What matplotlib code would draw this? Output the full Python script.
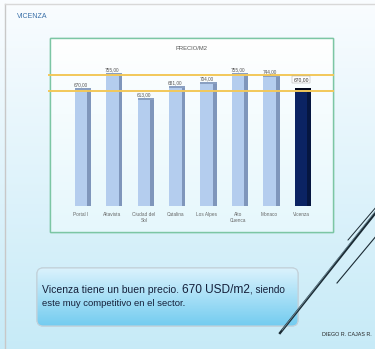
import numpy as np
import matplotlib
matplotlib.use("Agg")
import matplotlib.pyplot as plt
import matplotlib.transforms as mtrans
from matplotlib.patches import FancyBboxPatch, Rectangle

# Price per square metre of competing projects
categories = ["Portal I", "Altavista", "Ciudad del\nSol", "Catalina", "Los Alpes",
              "Alto\nCuenca", "Monaco", "Vicenza"]
prices = [670, 755, 613, 681, 704, 755, 744, 670]
value_labels = ["670,00", "755,00", "613,00", "681,00", "704,00", "755,00", "744,00", "670,00"]
reference_lines = [744, 653]

plt.rcParams["font.family"] = ["Liberation Sans", "DejaVu Sans"]

W, H = 375, 349
fig = plt.figure(figsize=(W / 100, H / 100), dpi=100)

# slide background in pixel coordinates
bg = fig.add_axes([0, 0, 1, 1])
bg.set_xlim(0, W)
bg.set_ylim(H, 0)
bg.axis("off")


def vgrad(c_top, c_bot, n=256):
    g = np.linspace(0, 1, n).reshape(-1, 1, 1)
    return np.array(c_top)[None, None, :] * (1 - g) + np.array(c_bot)[None, None, :] * g


bg.imshow(vgrad([0.98, 0.99, 1.0], [0.78, 0.92, 0.97]), extent=[0, W, H, 0],
          aspect="auto", zorder=0)
# slide frame lines
bg.plot([5, 5], [4, H], color="#c8c8c8", lw=1, zorder=1)
bg.plot([5, W], [4, 4], color="#d8d8d8", lw=1, zorder=1)

bg.text(17, 17, "VICENZA", fontsize=5, color="#3a6fa8", va="center", ha="left", zorder=2)

# chart frame
frame = Rectangle((50, 38), 283, 194, facecolor="white", edgecolor="#7cc6a4",
                  lw=1.0, zorder=1)
bg.add_patch(frame)
inner = bg.imshow(vgrad([1.0, 1.0, 1.0], [0.90, 0.97, 0.99]), extent=[50, 333, 232, 38],
                  aspect="auto", zorder=1.1)
inner.set_clip_path(frame)
bg.add_patch(Rectangle((50, 38), 283, 194, facecolor="none", edgecolor="#7cc6a4",
                       lw=1.0, zorder=1.2))
bg.text(191, 48, "PRECIO/M2", fontsize=4.2, color="#555555", ha="center", va="center",
        zorder=2)

# bottom text box
box = FancyBboxPatch((37, 268), 261, 58, boxstyle="round,pad=0,rounding_size=6",
                     facecolor="#a9dcf1", edgecolor="#b9c9d3", lw=0.8, zorder=2)
bg.add_patch(box)
fill = bg.imshow(vgrad([0.86, 0.95, 0.99], [0.45, 0.80, 0.94]), extent=[37, 298, 326, 268],
                 aspect="auto", zorder=2.1)
fill.set_clip_path(box)
bg.add_patch(FancyBboxPatch((37, 268), 261, 58, boxstyle="round,pad=0,rounding_size=6",
                            facecolor="none", edgecolor="#c4d2da", lw=0.8, zorder=2.2))

txt_color = "#15203a"
t1 = bg.text(42, 290, "Vicenza tiene un buen precio. ", fontsize=7.5, color=txt_color,
             va="center", ha="left", zorder=3)
fig.canvas.draw()
blend = mtrans.blended_transform_factory(mtrans.IdentityTransform(), bg.transData)
t2 = bg.text(t1.get_window_extent().x1, 290, "670 USD/m2", fontsize=8.6, color=txt_color,
             va="center", ha="left", zorder=3, transform=blend)
fig.canvas.draw()
bg.text(t2.get_window_extent().x1, 290, ", siendo", fontsize=7.2, color=txt_color,
        va="center", ha="left", zorder=3, transform=blend)
bg.text(42, 304, "este muy competitivo en el sector.", fontsize=6.8, color=txt_color,
        va="center", ha="left", zorder=3)

# decorative diagonal strokes
bg.plot([280, 377], [333, 211], color="#1a2a33", lw=1.7, zorder=3)
bg.plot([282, 377], [330, 209], color="#6f8c99", lw=0.6, zorder=3)
bg.plot([337, 377], [283, 235], color="#1a2a33", lw=0.8, zorder=3)
bg.plot([348, 377], [240, 206], color="#1a2a33", lw=0.7, zorder=3)
bg.text(372, 334, "DIEGO R. CAJAS R.", fontsize=3.9, color="#222222", ha="right",
        va="center", zorder=3)

# bar chart
ax = fig.add_axes([62 / W, (H - 206) / H, 258 / W, 146 / H])
ax.set_xlim(-0.6, len(prices) - 0.4)
ax.set_ylim(0, 830)
ax.axis("off")
x = np.arange(len(prices))
bw = 0.40
side = 0.12
face_colors = ["#b4cdee"] * (len(prices) - 1) + ["#0b2363"]
side_colors = ["#7f96bb"] * (len(prices) - 1) + ["#061640"]
ax.bar(x + bw / 2 + side / 2, [p - 4 for p in prices], width=side, color=side_colors,
       zorder=2)
ax.bar(x, prices, width=bw, color=face_colors, zorder=3)
ax.bar(x + side / 2, [12] * len(prices), bottom=[p - 12 for p in prices], width=bw + side,
       color=["#8aa0c2"] * (len(prices) - 1) + ["#02081c"], zorder=3)

for yl in reference_lines:
    ax.axhline(yl, xmin=-0.05, xmax=1.05, color="#f2c85a", lw=1.4, zorder=4, clip_on=False)

for i, (p, lab) in enumerate(zip(prices, value_labels)):
    if i == len(prices) - 1:
        ax.text(i, p + 35, lab, fontsize=3.6, color="#333333", ha="center", va="bottom",
                zorder=5, bbox=dict(boxstyle="square,pad=0.2", fc="white", ec="#999999",
                                    lw=0.3))
    else:
        ax.text(i, p + 4, lab, fontsize=3.4, color="#555555", ha="center", va="bottom",
                zorder=5)
    ax.text(i, -35, categories[i], fontsize=3.4, color="#666666", ha="center", va="top",
            linespacing=1.1, zorder=5)

fig.savefig("out.png", dpi=100)
